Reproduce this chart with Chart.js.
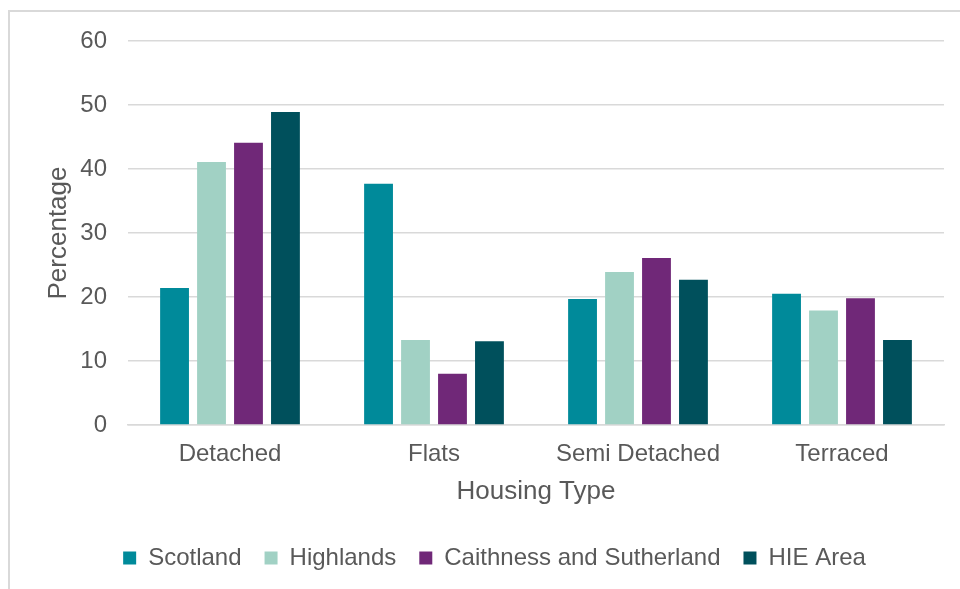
<!DOCTYPE html>
<html>
<head>
<meta charset="utf-8">
<script src="https://cdn.jsdelivr.net/npm/chart.js@4.4.1/dist/chart.umd.min.js"></script>
<style>
html,body{margin:0;padding:0;background:#fff;overflow:hidden;}
#frame{position:absolute;left:8px;top:10px;width:980px;height:620px;border:2px solid #d9d9d9;box-sizing:border-box;}
#wrap{position:absolute;left:0;top:0;width:960px;height:589px;}
</style>
</head>
<body>
<div id="frame"></div>
<div id="wrap"><canvas id="c" width="960" height="589"></canvas></div>
<script>
const categories = ["Detached", "Flats", "Semi Detached", "Terraced"];
const scotland = [21.4, 37.7, 19.7, 20.5];
const highlands = [41.1, 13.3, 23.9, 17.9];
const caithness = [44.1, 8.0, 26.1, 19.8];
const hieArea = [48.9, 13.1, 22.7, 13.3];
const seriesNames = ["Scotland", "Highlands", "Caithness and Sutherland", "HIE Area"];
const yTicks = [0, 10, 20, 30, 40, 50, 60];

const colors = ["#008A9A", "#A1D1C4", "#702878", "#00505C"];
const data = [scotland, highlands, caithness, hieArea];
const txt = "#595959";
const fam = "'Liberation Sans', Arial, sans-serif";

new Chart(document.getElementById("c"), {
  type: "bar",
  data: {
    labels: categories,
    datasets: seriesNames.map((n, i) => ({
      label: n,
      data: data[i],
      backgroundColor: colors[i],
      borderWidth: 0,
      categoryPercentage: 0.725,
      barPercentage: 0.78
    }))
  },
  options: {
    responsive: false,
    animation: false,
    devicePixelRatio: 1,
    layout: { padding: { left: 45, right: 16, top: 41, bottom: 9 } },
    plugins: {
      tooltip: { enabled: false },
      legend: {
        position: "bottom",
        labels: {
          color: txt,
          font: { family: fam, size: 24 },
          boxWidth: 13,
          boxHeight: 13,
          padding: 23
        }
      }
    },
    scales: {
      x: {
        grid: { display: false, drawTicks: false },
        border: { display: true, color: "#d9d9d9", width: 1.5 },
        ticks: { color: txt, font: { family: fam, size: 24 }, padding: 15 },
        title: { display: true, text: "Housing Type", color: txt, font: { family: fam, size: 26 }, padding: { top: -8, bottom: 16 } }
      },
      y: {
        min: 0,
        max: 60,
        afterBuildTicks: (s) => { s.ticks = yTicks.map(v => ({ value: v })); },
        grid: { color: "#d9d9d9", lineWidth: 1.5, drawTicks: false },
        border: { display: false },
        ticks: { color: txt, font: { family: fam, size: 24 }, padding: 21 },
        title: { display: true, text: "Percentage", color: txt, font: { family: fam, size: 26 }, padding: { top: -2, bottom: 4 } },
        afterFit: (s) => { s.width = 128 - 45; }
      }
    }
  }
});
</script>
</body>
</html>
